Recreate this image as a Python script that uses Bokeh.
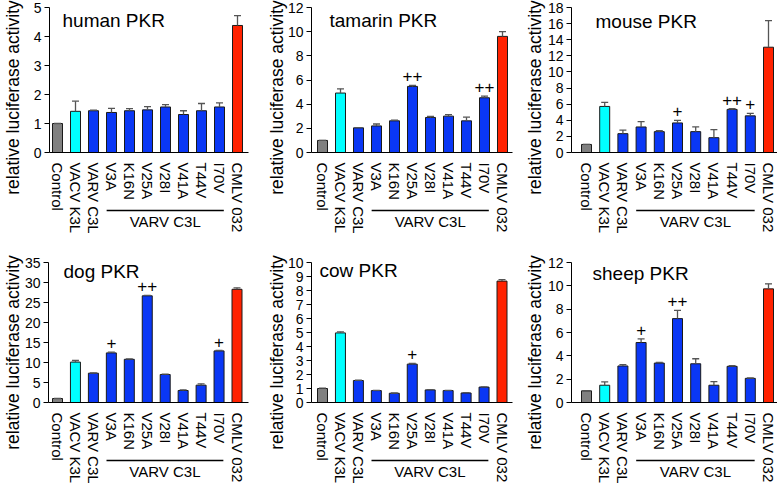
import math
from bokeh.plotting import figure
from bokeh.layouts import gridplot
from bokeh.models import (Range1d, FixedTicker, Whisker, TeeHead, Label,
                          ColumnDataSource)
from bokeh.core.properties import value
from bokeh.embed import file_html
from bokeh.resources import INLINE

# ---------------- data ----------------
categories = ["Control", "VACV K3L", "VARV C3L", "V3A", "K16N", "V25A",
              "V28I", "V41A", "T44V", "I70V", "CMLV 032"]
group_label = "VARV C3L"
group_members = ["V3A", "I70V"]  # first and last of the bracketed group
y_label = "relative luciferase activity"

titles = ["human PKR", "tamarin PKR", "mouse PKR", "dog PKR", "cow PKR", "sheep PKR"]

human_vals = [1.00, 1.42, 1.44, 1.38, 1.44, 1.47, 1.57, 1.31, 1.44, 1.57, 4.38]
human_errs = [0.00, 0.35, 0.02, 0.14, 0.07, 0.11, 0.08, 0.13, 0.25, 0.14, 0.34]
human_marks = ["", "", "", "", "", "", "", "", "", "", ""]

tamarin_vals = [1.00, 4.92, 2.04, 2.20, 2.62, 5.47, 2.90, 3.01, 2.62, 4.53, 9.61]
tamarin_errs = [0.00, 0.35, 0.02, 0.16, 0.05, 0.08, 0.08, 0.13, 0.30, 0.14, 0.40]
tamarin_marks = ["", "", "", "", "", "++", "", "", "", "++", ""]

mouse_vals = [1.00, 5.72, 2.34, 3.17, 2.59, 3.67, 2.59, 1.84, 5.35, 4.55, 13.07]
mouse_errs = [0.00, 0.50, 0.45, 0.67, 0.11, 0.33, 0.58, 1.00, 0.08, 0.30, 3.30]
mouse_marks = ["", "", "", "", "", "+", "", "", "++", "+", ""]

dog_vals = [1.00, 10.10, 7.33, 12.40, 10.80, 26.67, 7.00, 3.00, 4.33, 12.90, 28.30]
dog_errs = [0.00, 0.40, 0.10, 0.20, 0.10, 0.10, 0.10, 0.17, 0.34, 0.10, 0.37]
dog_marks = ["", "", "", "+", "", "++", "", "", "", "+", ""]

cow_vals = [1.00, 4.97, 1.57, 0.85, 0.66, 2.74, 0.90, 0.85, 0.68, 1.10, 8.67]
cow_errs = [0.02, 0.08, 0.02, 0.02, 0.02, 0.06, 0.02, 0.02, 0.02, 0.02, 0.11]
cow_marks = ["", "", "", "", "", "+", "", "", "", "", ""]

sheep_vals = [1.00, 1.48, 3.13, 5.14, 3.38, 7.19, 3.32, 1.48, 3.10, 2.07, 9.74]
sheep_errs = [0.00, 0.28, 0.11, 0.31, 0.05, 0.71, 0.43, 0.31, 0.05, 0.03, 0.43]
sheep_marks = ["", "", "", "+", "", "++", "", "", "", "", ""]

y_max = [5, 12, 18, 35, 10, 12]
y_step = [1, 2, 2, 5, 1, 2]

all_vals = [human_vals, tamarin_vals, mouse_vals, dog_vals, cow_vals, sheep_vals]
all_errs = [human_errs, tamarin_errs, mouse_errs, dog_errs, cow_errs, sheep_errs]
all_marks = [human_marks, tamarin_marks, mouse_marks, dog_marks, cow_marks, sheep_marks]

# ---------------- styling / layout (pixels inside each canvas) ----------------
FONT = "Liberation Sans"
bar_colors = ["#808080", "#00FFFF"] + ["#0A37F5"] * 8 + ["#FF2200"]

col_w = [259, 259, 259]
row_h = [244, 244]

axis_px = [49, 52, 53, 48, 52, 53]           # y-axis position from canvas left
first_gap = [8, 11, 15, 9, 11, 15]          # first bar centre right of y-axis
bar_step = [18, 18, 18.2, 17.95, 17.95, 18.2]  # px between bar centres
end_px = [248, 253, 259, 248, 253, 259]     # right end of x-axis line
top_px = [7, 7, 7, 18, 18, 18]              # y max position from canvas top
zero_px = [152, 152, 152, 158, 158, 158]    # y = 0 position from canvas top

title_px = [(62, 9), (70, 9), (77, 10), (63, 16), (60, 15), (74, 18)]
ylab_px = [(12, 97), (17, 97), (16, 97), (12, 108), (17, 108), (16, 108)]
group_line_px = 58
group_text_px = 69


def make_panel(i):
    r, c = divmod(i, 3)
    W, H = col_w[c], row_h[r]
    ymx = y_max[i]
    first = axis_px[i] + first_gap[i]
    pxu = bar_step[i]                               # px per x unit
    pyu = (zero_px[i] - top_px[i]) / ymx            # px per y unit

    def dx(px):   # canvas px from left -> data x
        return (px - first) / pxu

    def dy(px):   # canvas px from top -> data y
        return (zero_px[i] - px) / pyu

    p = figure(width=W, height=H,
               x_range=Range1d(dx(0), dx(W)), y_range=Range1d(dy(H), dy(0)),
               output_backend="svg", toolbar_location=None, min_border=0)
    p.outline_line_color = None
    p.background_fill_color = "white"
    p.border_fill_color = "white"
    p.xgrid.visible = False
    p.ygrid.visible = False

    xs = list(range(len(categories)))
    vals = all_vals[i]
    errs = all_errs[i]
    upper = [v + e for v, e in zip(vals, errs)]
    src = ColumnDataSource(dict(x=xs, vals=vals, upper=upper, color=bar_colors,
                                mark=all_marks[i]))

    p.vbar(x="x", top="vals", bottom=0, width=10 / pxu, fill_color="color",
           line_color="#1a1a1a", line_width=1, source=src)

    wh = Whisker(source=src, base="x", lower="vals", upper="upper",
                 dimension="height", line_color="#555555", line_width=1.3,
                 upper_head=TeeHead(size=7, line_color="#555555", line_width=1.3),
                 lower_head=None, level="overlay")
    p.add_layout(wh)

    p.text(x="x", y="upper", text="mark", source=src,
           text_font=value(FONT), text_font_size=value("17px"),
           text_align="center", text_baseline="middle", y_offset=-9,
           text_color="black")

    # y axis fixed at its own location
    yax = p.yaxis[0]
    yax.fixed_location = dx(axis_px[i])
    yax.bounds = (0, ymx)
    yax.ticker = FixedTicker(ticks=list(range(0, ymx + 1, y_step[i])))
    yax.major_tick_out = 5
    yax.major_tick_in = 0
    yax.minor_tick_line_color = None
    yax.axis_line_color = "black"
    yax.major_tick_line_color = "black"
    yax.major_label_text_font = FONT
    yax.major_label_text_font_size = "14px"
    yax.major_label_text_color = "black"
    yax.major_label_standoff = 3

    # x axis fixed at y = 0
    xax = p.xaxis[0]
    xax.fixed_location = 0
    xax.bounds = (dx(axis_px[i]), dx(end_px[i]))
    xax.ticker = FixedTicker(ticks=xs)
    xax.major_label_overrides = {k: lab for k, lab in enumerate(categories)}
    xax.major_label_orientation = "vertical"
    xax.major_tick_line_color = None
    xax.minor_tick_line_color = None
    xax.axis_line_color = "black"
    xax.major_label_text_font = FONT
    xax.major_label_text_font_size = "15px"
    xax.major_label_text_color = "black"
    xax.major_label_standoff = 4

    # title inside plot
    tx, ty = title_px[i]
    p.add_layout(Label(x=dx(tx), y=dy(ty), text=titles[i], text_font=FONT,
                       text_font_size="19px", text_baseline="top",
                       text_align="left", text_color="black"))
    # y-axis label
    lx, ly = ylab_px[i]
    p.add_layout(Label(x=dx(lx), y=dy(ly), text=y_label, angle=math.pi / 2,
                       text_font=FONT, text_font_size="17.5px",
                       text_baseline="middle", text_align="center",
                       text_color="black"))
    # group bracket below the x tick labels
    g0 = categories.index(group_members[0]) - 0.27
    g1 = categories.index(group_members[1]) + 0.24
    gy = dy(zero_px[i] + group_line_px)
    p.line(x=[g0, g1], y=[gy, gy], line_color="black", line_width=1.3)
    p.add_layout(Label(x=(g0 + g1) / 2, y=dy(zero_px[i] + group_text_px),
                       text=group_label, text_font=FONT, text_font_size="15px",
                       text_baseline="middle", text_align="center",
                       text_color="black"))
    return p


figs = [make_panel(i) for i in range(6)]
grid = gridplot([figs[:3], figs[3:]], toolbar_location=None)

open("out.html", "w").write(file_html(grid, INLINE))
